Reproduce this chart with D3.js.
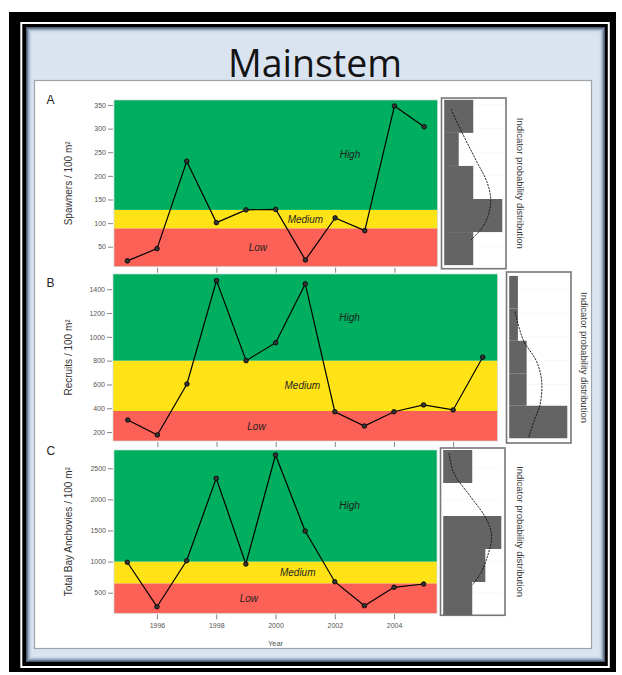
<!DOCTYPE html>
<html><head><meta charset="utf-8">
<script src="https://cdn.jsdelivr.net/npm/d3@7/dist/d3.min.js"></script>
<style>body{margin:0;background:#fff}svg{display:block}</style>
</head><body>
<svg id="chart" width="622" height="675"></svg>
<script>
// ---------------- DATA ----------------
const chartTitle = "Mainstem";
const bandNames = ["Low", "Medium", "High"];
const sideLabel = "Indicator probability distribution";

// Panel A — Spawners
const yearsA = [1995,1996,1997,1998,1999,2000,2001,2002,2003,2004,2005];
const spawners = [20,46,231,101,128,129,22,111,84,348,304];
const thresholdsA = [89,128];
const yTicksA = [50,100,150,200,250,300,350];
const binEdgesA = [11,81,151,221,291,361];
const binProbA = [0.20,0.40,0.20,0.10,0.20];
const curveValA = [341,286,230,188,152,117,89,64];
const curveDenA = [0.047,0.132,0.224,0.293,0.320,0.304,0.258,0.183];
const labelYearA = [1999.4,2001.0,2002.5];

// Panel B — Recruits
const yearsB = [1995,1996,1997,1998,1999,2000,2001,2002,2003,2004,2005,2006,2007];
const recruits = [302,176,604,1472,800,951,1445,371,251,371,428,386,829];
const thresholdsB = [377,800];
const yTicksB = [200,400,600,800,1000,1200,1400];
const binEdgesB = [148,421,694,967,1239,1512];
const binProbB = [0.40,0.12,0.12,0.06,0.06];
const curveValB = [1212,974,792,624,428,316,148];
const curveDenB = [0.040,0.097,0.189,0.224,0.212,0.178,0.132];
const labelYearB = [1999.35,2000.9,2002.5];

// Panel C — Total Bay Anchovies
const yearsC = [1995,1996,1997,1998,1999,2000,2001,2002,2003,2004,2005];
const anchovies = [989,275,1014,2339,961,2714,1492,677,291,587,640];
const thresholdsC = [651,1000];
const yTicksC = [500,1000,1500,2000,2500];
const binEdgesC = [142,672,1203,1733,2264,2794];
const binProbC = [0.20,0.29,0.40,0.0,0.20];
const curveValC = [2741,2420,2043,1749,1508,1347,1079,812,624];
const curveDenC = [0.040,0.074,0.189,0.281,0.327,0.332,0.304,0.258,0.201];
const labelYearC = [1999.1,2000.75,2002.5];

const xTicksAC = [1996,1998,2000,2002,2004];
const xTicksB = [1996,1998,2000,2002,2004,2006];

// ---------------- STYLE / LAYOUT ----------------
const colBand = ["#fc6157","#ffe316","#00ae5f"];
const FONT = "'Liberation Sans', Arial, sans-serif";

const panels = [
  {letter:"A", years:yearsA, values:spawners, thr:thresholdsA, yDomain:[7.7,360.6], yTicks:yTicksA,
   xDomain:[1994.55,2005.45], xTicks:xTicksAC, title:"Spawners / 100 m\u00B2",
   bins:binEdgesA, probs:binProbA, cv:curveValA, cd:curveDenA, labYears:labelYearA,
   x0:114, x1:437.5, y0:100, y1:266.7, boxX:441.5, sideTextX:516.5, letterY:104, xLabels:false},
  {letter:"B", years:yearsB, values:recruits, thr:thresholdsB, yDomain:[125,1528], yTicks:yTicksB,
   xDomain:[1994.5,2007.5], xTicks:xTicksB, title:"Recruits / 100 m\u00B2",
   bins:binEdgesB, probs:binProbB, cv:curveValB, cd:curveDenB, labYears:labelYearB,
   x0:113, x1:497.5, y0:274, y1:441, boxX:506.5, sideTextX:581, letterY:287, xLabels:false},
  {letter:"C", years:yearsC, values:anchovies, thr:thresholdsC, yDomain:[169,2794], yTicks:yTicksC,
   xDomain:[1994.55,2005.45], xTicks:xTicksAC, title:"Total Bay Anchovies / 100 m\u00B2",
   bins:binEdgesC, probs:binProbC, cv:curveValC, cd:curveDenC, labYears:labelYearC,
   x0:114, x1:437, y0:450, y1:613.3, boxX:440.5, sideTextX:516.5, letterY:455, xLabels:true}
];

const svg = d3.select("#chart");

// ---------------- FRAME ----------------
svg.append("rect").attr("x",9).attr("y",12).attr("width",607).attr("height",660).attr("fill","#000");
svg.append("rect").attr("x",21.3).attr("y",23).attr("width",587.5).attr("height",644)
   .attr("fill","none").attr("stroke","#fff").attr("stroke-width",2);
svg.append("rect").attr("x",26).attr("y",27).attr("width",579).attr("height",635).attr("fill","#dae4f1");
const shade = ["#4e5d70","#6f7f95","#93a4ba","#b3c3d6","#c9d6e6","#d3dfed"];
shade.forEach((c,i)=>{
  svg.append("rect").attr("x",26.5+i).attr("y",27.5+i).attr("width",578-2*i).attr("height",634-2*i)
     .attr("fill","none").attr("stroke",c).attr("stroke-width",1);
});
svg.append("rect").attr("x",34.5).attr("y",80.5).attr("width",557).attr("height",568)
   .attr("fill","#fff").attr("stroke","#9ea4ab").attr("stroke-width",1.2);

svg.append("text").attr("x",315).attr("y",77).attr("text-anchor","middle")
   .attr("font-family","'Open Sans', sans-serif").attr("font-size",37.5).attr("fill","#141414")
   .text(chartTitle);

// ---------------- PANELS ----------------
panels.forEach(p=>{
  const g = svg.append("g");
  const x = d3.scaleLinear().domain(p.xDomain).range([p.x0,p.x1]);
  const y = d3.scaleLinear().domain(p.yDomain).range([p.y1,p.y0]);

  // bands
  const bounds = [p.yDomain[0], p.thr[0], p.thr[1], p.yDomain[1]];
  for(let i=0;i<3;i++){
    g.append("rect").attr("x",p.x0).attr("width",p.x1-p.x0)
     .attr("y",y(bounds[i+1])).attr("height",y(bounds[i])-y(bounds[i+1]))
     .attr("fill",colBand[i]);
    g.append("text").attr("x",x(p.labYears[i])).attr("y",y((bounds[i]+bounds[i+1])/2)+3.5)
     .attr("text-anchor","middle").attr("font-family",FONT).attr("font-style","italic")
     .attr("font-size",10).attr("fill","#1e1e1e").text(bandNames[i]);
  }
  g.append("rect").attr("x",p.x0).attr("y",p.y0).attr("width",p.x1-p.x0).attr("height",p.y1-p.y0)
   .attr("fill","none").attr("stroke","#cfd6d2").attr("stroke-width",0.7);

  // y axis
  const ya = g.append("g").attr("transform",`translate(${p.x0-1},0)`)
    .call(d3.axisLeft(y).tickValues(p.yTicks).tickSize(5).tickPadding(2).tickFormat(d3.format("d")));
  ya.select(".domain").remove();
  ya.selectAll("line").attr("stroke","#666").attr("stroke-width",0.8);
  ya.selectAll("text").attr("font-family",FONT).attr("font-size",7).attr("fill","#555");

  // x axis
  const xa = g.append("g").attr("transform",`translate(0,${p.y1+1})`)
    .call(d3.axisBottom(x).tickValues(p.xTicks).tickSize(5).tickPadding(4)
      .tickFormat(p.xLabels ? d3.format("d") : ()=>""));
  xa.select(".domain").remove();
  xa.selectAll("line").attr("stroke","#666").attr("stroke-width",0.8);
  xa.selectAll("text").attr("font-family",FONT).attr("font-size",7).attr("fill","#555");

  // y title
  g.append("text").attr("transform",`translate(72,${(p.y0+p.y1)/2}) rotate(-90)`)
   .attr("text-anchor","middle").attr("font-family",FONT).attr("font-size",10).attr("fill","#333")
   .text(p.title);

  // panel letter
  g.append("text").attr("x",46.5).attr("y",p.letterY).attr("font-family",FONT)
   .attr("font-size",12).attr("fill","#222").text(p.letter);

  // series
  const pts = p.years.map((yr,i)=>[yr,p.values[i]]);
  g.append("path").datum(pts)
   .attr("d",d3.line().x(d=>x(d[0])).y(d=>y(d[1])))
   .attr("fill","none").attr("stroke","#000").attr("stroke-width",1.2);
  g.selectAll("circle.pt").data(pts).enter().append("circle")
   .attr("cx",d=>x(d[0])).attr("cy",d=>y(d[1])).attr("r",2.3)
   .attr("fill","#333").attr("stroke","#000").attr("stroke-width",0.8);

  // side probability panel
  const bx = p.boxX, bw = 64.5, by0 = p.y0-2, by1 = p.y1+2;
  const sx = d3.scaleLinear().domain([0,0.42]).range([bx+2.7, bx+2.7+61]);
  g.append("rect").attr("x",bx).attr("y",by0).attr("width",bw).attr("height",by1-by0)
   .attr("fill","#fff").attr("stroke","#777").attr("stroke-width",1.6);
  p.yTicks.forEach(t=>{
    g.append("line").attr("x1",bx+2).attr("x2",bx+bw-2).attr("y1",y(t)).attr("y2",y(t))
     .attr("stroke","#ececec").attr("stroke-width",0.7).attr("stroke-dasharray","2,2");
  });
  const binData = p.probs.map((v,i)=>({lo:p.bins[i],hi:p.bins[i+1],v}));
  g.selectAll("rect.bin").data(binData).enter().append("rect")
   .attr("x",sx(0)).attr("y",d=>y(d.hi)).attr("width",d=>sx(d.v)-sx(0))
   .attr("height",d=>y(d.lo)-y(d.hi)).attr("fill","#646464");
  const cpts = p.cv.map((v,i)=>[v,p.cd[i]]);
  g.append("path").datum(cpts)
   .attr("d",d3.line().curve(d3.curveCatmullRom).x(d=>sx(d[1])).y(d=>y(d[0])))
   .attr("fill","none").attr("stroke","#111").attr("stroke-width",0.9).attr("stroke-dasharray","2.2,1");
  g.append("text").attr("transform",`translate(${p.sideTextX},${(p.y0+p.y1)/2}) rotate(90)`)
   .attr("text-anchor","middle").attr("font-family",FONT).attr("font-size",9.5).attr("fill","#333")
   .text(sideLabel);
});

// x-axis title
const xC = d3.scaleLinear().domain(panels[2].xDomain).range([panels[2].x0,panels[2].x1]);
svg.append("text").attr("x",xC(2000)).attr("y",646).attr("text-anchor","middle")
   .attr("font-family",FONT).attr("font-size",7.5).attr("fill","#555").text("Year");
</script>
</body></html>
